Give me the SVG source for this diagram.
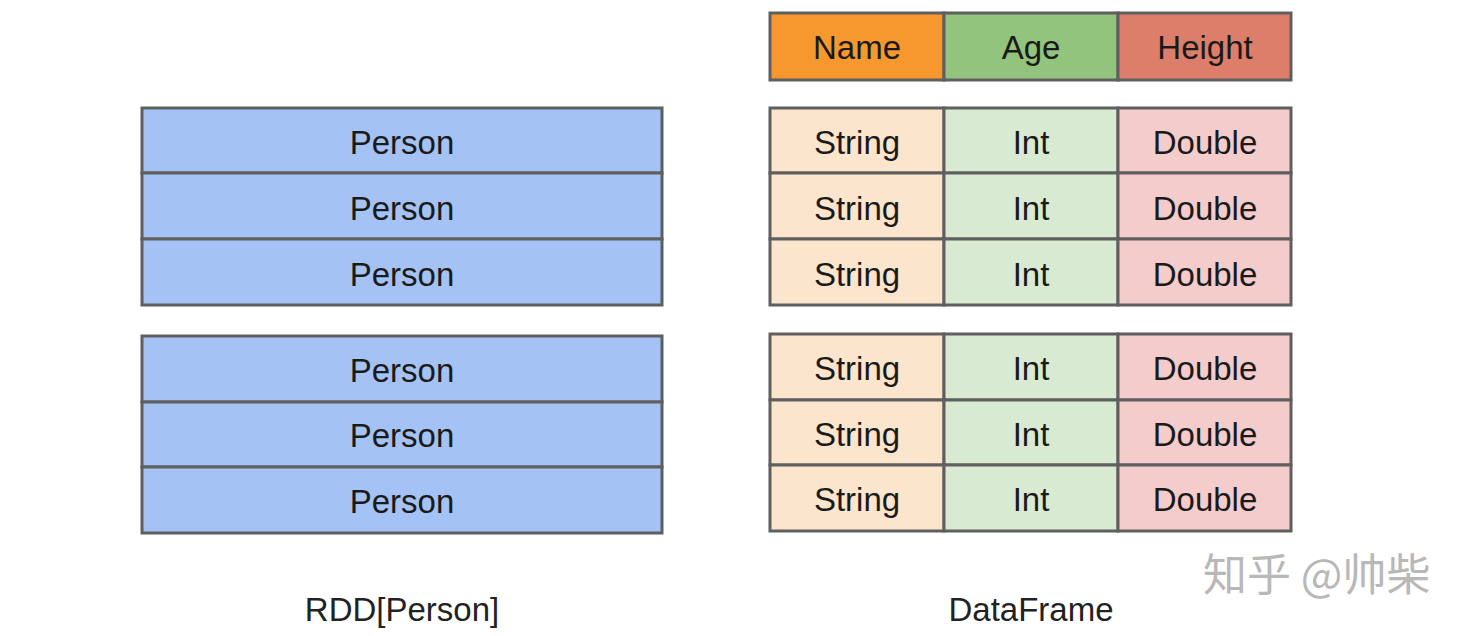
<svg xmlns="http://www.w3.org/2000/svg" width="1470" height="636" viewBox="0 0 1470 636">
<style>
.c{stroke:#5f5f5f;stroke-width:3}
.t{font-family:"Liberation Sans",Arial,sans-serif;font-size:33px;fill:#1a1a1a;text-anchor:middle;dominant-baseline:central}
.p{fill:#a4c2f4}.s{fill:#fce5cd}.i{fill:#d9ead3}.d{fill:#f4cccc}
.lbl{font-family:"Liberation Sans",Arial,sans-serif;font-size:33px;fill:#222;text-anchor:middle}
</style>
<rect width="1470" height="636" fill="#fff"/>
<g id="rdd">
<g id="rdd-p1">
<rect class="c p" x="142" y="108" width="520" height="65"/><text class="t" x="402" y="142">Person</text>
<rect class="c p" x="142" y="173" width="520" height="66"/><text class="t" x="402" y="208">Person</text>
<rect class="c p" x="142" y="239" width="520" height="66"/><text class="t" x="402" y="274">Person</text>
</g>
<g id="rdd-p2">
<rect class="c p" x="142" y="336" width="520" height="66"/><text class="t" x="402" y="370">Person</text>
<rect class="c p" x="142" y="402" width="520" height="65"/><text class="t" x="402" y="435">Person</text>
<rect class="c p" x="142" y="467" width="520" height="66"/><text class="t" x="402" y="501">Person</text>
</g>
<text id="rdd-label" class="lbl" x="402" y="621">RDD[Person]</text>
</g>
<g id="header">
<rect class="c" fill="#f6982e" x="770" y="13" width="174" height="67"/><text class="t" x="857" y="47">Name</text>
<rect class="c" fill="#93c47d" x="944" y="13" width="174" height="67"/><text class="t" x="1031" y="47">Age</text>
<rect class="c" fill="#dd7e6b" x="1118" y="13" width="173" height="67"/><text class="t" x="1205" y="47">Height</text>
</g>
<g id="df">
<g id="df-p1">
<rect class="c s" x="770" y="108" width="174" height="65"/><text class="t" x="857" y="142">String</text>
<rect class="c i" x="944" y="108" width="174" height="65"/><text class="t" x="1031" y="142">Int</text>
<rect class="c d" x="1118" y="108" width="173" height="65"/><text class="t" x="1205" y="142">Double</text>
<rect class="c s" x="770" y="173" width="174" height="66"/><text class="t" x="857" y="208">String</text>
<rect class="c i" x="944" y="173" width="174" height="66"/><text class="t" x="1031" y="208">Int</text>
<rect class="c d" x="1118" y="173" width="173" height="66"/><text class="t" x="1205" y="208">Double</text>
<rect class="c s" x="770" y="239" width="174" height="66"/><text class="t" x="857" y="274">String</text>
<rect class="c i" x="944" y="239" width="174" height="66"/><text class="t" x="1031" y="274">Int</text>
<rect class="c d" x="1118" y="239" width="173" height="66"/><text class="t" x="1205" y="274">Double</text>
</g>
<g id="df-p2">
<rect class="c s" x="770" y="334" width="174" height="66"/><text class="t" x="857" y="368">String</text>
<rect class="c i" x="944" y="334" width="174" height="66"/><text class="t" x="1031" y="368">Int</text>
<rect class="c d" x="1118" y="334" width="173" height="66"/><text class="t" x="1205" y="368">Double</text>
<rect class="c s" x="770" y="400" width="174" height="65"/><text class="t" x="857" y="434">String</text>
<rect class="c i" x="944" y="400" width="174" height="65"/><text class="t" x="1031" y="434">Int</text>
<rect class="c d" x="1118" y="400" width="173" height="65"/><text class="t" x="1205" y="434">Double</text>
<rect class="c s" x="770" y="465" width="174" height="66"/><text class="t" x="857" y="499">String</text>
<rect class="c i" x="944" y="465" width="174" height="66"/><text class="t" x="1031" y="499">Int</text>
<rect class="c d" x="1118" y="465" width="173" height="66"/><text class="t" x="1205" y="499">Double</text>
</g>
<text id="df-label" class="lbl" x="1031" y="621">DataFrame</text>
</g>
<g id="connectors"></g>
<text id="watermark" x="1203" y="591" font-family="'Noto Sans CJK SC',sans-serif" font-size="44" fill="#b8b8b8">知乎 @帅柴</text>
</svg>
